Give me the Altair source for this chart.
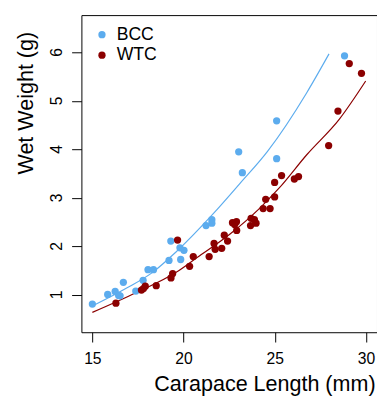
import altair as alt
import pandas as pd

# Scatter data
BCC_X = [15.0, 15.84, 16.25, 16.44, 16.52, 16.7, 17.38, 17.78, 18.05, 18.35, 19.2, 19.3,
         19.8, 20.02, 19.84, 21.23, 21.55, 21.55, 23.02, 23.22, 25.10, 25.10, 28.82]
BCC_Y = [0.81, 1.01, 1.07, 0.99, 0.98, 1.26, 1.08, 1.30, 1.52, 1.52, 1.71, 2.11,
         1.97, 1.92, 1.73, 2.43, 2.55, 2.48, 3.95, 3.52, 3.81, 4.59, 5.93]

WTC_X = [16.29, 17.69, 17.8, 17.9, 18.5, 19.31, 19.4, 19.67, 20.33, 20.53, 21.4, 21.67,
         21.73, 22.09, 22.23, 22.41, 22.68, 22.9, 22.91, 22.8, 23.70, 23.88, 23.67, 23.97,
         24.36, 24.74, 24.5, 24.99, 24.99, 25.37, 26.07, 26.3, 27.95, 28.46, 29.08, 29.75]
WTC_Y = [0.83, 1.10, 1.13, 1.18, 1.19, 1.35, 1.44, 2.13, 1.59, 1.79, 1.79, 2.06,
         1.94, 1.96, 2.23, 2.11, 2.49, 2.51, 2.33, 2.45, 2.58, 2.55, 2.43, 2.48,
         2.78, 2.78, 2.97, 3.02, 3.32, 3.46, 3.39, 3.44, 4.08, 4.79, 5.77, 5.57]

# Fitted curves
BCC_LINE_X = [15.0, 16.88, 18.32, 19.57, 21.64, 23.07, 24.6, 26.75, 27.97]
BCC_LINE_Y = [0.77, 1.14, 1.47, 1.88, 2.68, 3.29, 3.96, 5.17, 5.97]
WTC_LINE_X = [15.0, 17.42, 19.57, 20.74, 22.53, 24.15, 25.23, 26.75, 28.55, 29.98]
WTC_LINE_Y = [0.64, 1.05, 1.46, 1.77, 2.25, 2.78, 3.20, 3.89, 4.63, 5.41]

GROUPS = ["BCC", "WTC"]
COLORS = ["#5CACEE", "#8B0000"]
X_TICKS = [15, 20, 25, 30]
Y_TICKS = [1, 2, 3, 4, 5, 6]

pts = pd.DataFrame({
    "x": BCC_X + WTC_X,
    "y": BCC_Y + WTC_Y,
    "g": ["BCC"] * len(BCC_X) + ["WTC"] * len(WTC_X),
})
lines = pd.DataFrame({
    "x": BCC_LINE_X + WTC_LINE_X,
    "y": BCC_LINE_Y + WTC_LINE_Y,
    "g": ["BCC"] * len(BCC_LINE_X) + ["WTC"] * len(WTC_LINE_X),
})
ylab = pd.DataFrame({"v": Y_TICKS, "t": [str(v) for v in Y_TICKS]})

FONT = "Liberation Sans"

xscale = alt.Scale(domain=[14.4, 30.6], nice=False, zero=False)
yscale = alt.Scale(domain=[0.23, 6.77], nice=False, zero=False)
cscale = alt.Scale(domain=GROUPS, range=COLORS)


def xaxis():
    return alt.Axis(values=X_TICKS, title="Carapace Length (mm)", grid=False, domain=False,
                    tickSize=10, tickColor="black", tickWidth=1, labelPadding=9,
                    labelFontSize=16, labelFont=FONT, labelColor="black",
                    titleFontSize=22, titleFont=FONT, titleColor="black",
                    titleFontWeight="normal",
                    titleX=187, titleY=53, titleAlign="center", titleBaseline="middle")


def yaxis():
    return alt.Axis(values=Y_TICKS, title="Wet Weight (g)", grid=False, domain=False,
                    tickSize=10, tickColor="black", tickWidth=1, labels=False,
                    titleFontSize=22, titleFont=FONT, titleColor="black",
                    titleFontWeight="normal",
                    titleAngle=270, titleX=-57, titleY=89.5, titleAlign="center",
                    titleBaseline="middle")


line_layer = alt.Chart(lines).mark_line(strokeWidth=1.2, interpolate="monotone").encode(
    x=alt.X("x:Q", scale=xscale, axis=xaxis()),
    y=alt.Y("y:Q", scale=yscale, axis=yaxis()),
    color=alt.Color("g:N", scale=cscale, legend=None),
    detail="g:N",
)

point_layer = alt.Chart(pts).mark_circle(size=55, opacity=1).encode(
    x=alt.X("x:Q", scale=xscale, axis=xaxis()),
    y=alt.Y("y:Q", scale=yscale, axis=yaxis()),
    color=alt.Color("g:N", scale=cscale, title=None,
                    legend=alt.Legend(orient="none", legendX=12, legendY=11,
                                      labelFontSize=18, labelFont=FONT, labelColor="black",
                                      symbolSize=55, symbolType="circle", symbolStrokeWidth=0,
                                      labelOffset=6, padding=0, rowPadding=3)),
)

ylabel_layer = alt.Chart(ylab).mark_text(
    angle=270, align="center", baseline="middle", fontSize=16, font=FONT,
    color="black", clip=False,
).encode(
    x=alt.value(-25),
    y=alt.Y("v:Q", scale=yscale, axis=yaxis()),
    text="t:N",
)

chart = alt.layer(line_layer, point_layer, ylabel_layer).resolve_legend(
    color="independent"
).properties(
    width=302, height=324,
    autosize=alt.AutoSizeParams(type="none"),
    padding={"left": 75, "top": 3, "right": 0, "bottom": 66},
).configure_view(stroke="black", strokeWidth=1)

chart.save("out.html", embed_options={"renderer": "svg", "actions": False})
